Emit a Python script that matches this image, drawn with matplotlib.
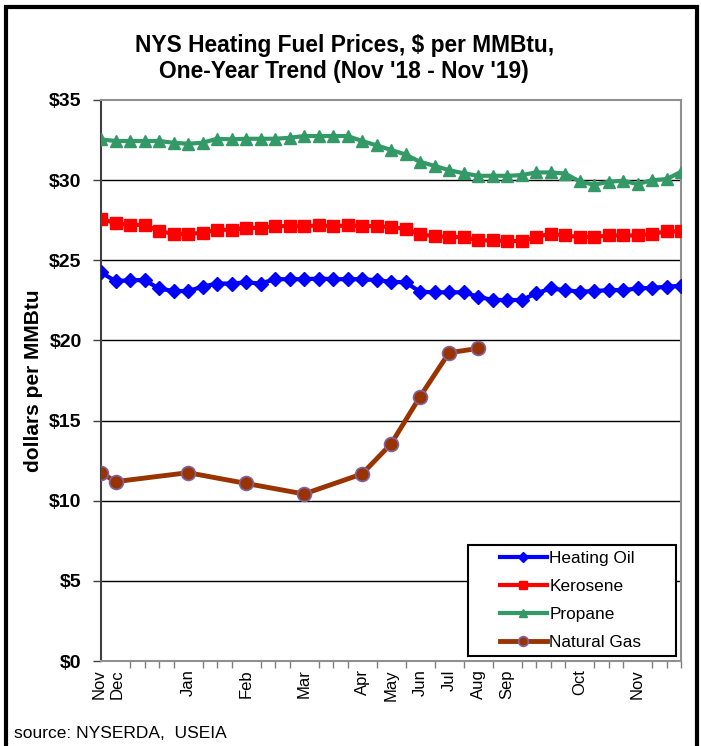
import matplotlib
matplotlib.use("Agg")
import matplotlib.pyplot as plt
import matplotlib.transforms as mtransforms
from matplotlib.patches import Rectangle

plt.rcParams["font.family"] = ["Liberation Sans", "DejaVu Sans"]

# ── Data ────────────────────────────────────────────────────────────────────
# one point per reporting date (weekly in winter, less often in summer)
heating_oil = [24.24, 23.70, 23.76, 23.76, 23.24, 23.08, 23.08, 23.35, 23.55, 23.55,
               23.62, 23.55, 23.82, 23.82, 23.82, 23.86, 23.82, 23.82, 23.82, 23.76,
               23.66, 23.62, 23.04, 23.00, 23.00, 23.00, 22.73, 22.52, 22.52, 22.52,
               22.93, 23.24, 23.14, 23.04, 23.08, 23.14, 23.14, 23.24, 23.28, 23.35,
               23.41]
kerosene = [27.58, 27.31, 27.21, 27.21, 26.82, 26.65, 26.65, 26.71, 26.90, 26.90,
            27.02, 27.02, 27.13, 27.13, 27.13, 27.17, 27.13, 27.17, 27.13, 27.13,
            27.07, 26.96, 26.61, 26.51, 26.45, 26.45, 26.24, 26.24, 26.20, 26.20,
            26.45, 26.65, 26.55, 26.45, 26.45, 26.55, 26.55, 26.55, 26.65, 26.80,
            26.80]
propane = [32.54, 32.44, 32.44, 32.44, 32.44, 32.33, 32.27, 32.33, 32.58, 32.54,
           32.58, 32.58, 32.58, 32.64, 32.75, 32.75, 32.75, 32.75, 32.44, 32.17,
           31.88, 31.60, 31.14, 30.89, 30.62, 30.43, 30.27, 30.27, 30.27, 30.31,
           30.48, 30.48, 30.41, 29.92, 29.71, 29.90, 29.96, 29.75, 30.00, 30.06,
           30.52]
# natural gas is monthly, reported on the first date of each month
gas_idx = [0, 1, 6, 10, 14, 18, 20, 22, 24, 26]
natural_gas = [11.75, 11.19, 11.75, 11.08, 10.42, 11.67, 13.54, 16.49, 19.23, 19.50]

month_idx = [0, 1, 6, 10, 14, 18, 20, 22, 24, 26, 28, 33, 37]
month_labels = ["Nov", "Dec", "Jan", "Feb", "Mar", "Apr", "May", "Jun", "Jul",
                "Aug", "Sep", "Oct", "Nov"]
y_ticks = [0, 5, 10, 15, 20, 25, 30, 35]

# ── Figure ──────────────────────────────────────────────────────────────────
fig = plt.figure(figsize=(7.01, 7.46), dpi=100, facecolor="white")
ax = fig.add_axes([0.1441, 0.1139, 0.8274, 0.7521])

x = list(range(len(heating_oil)))
ax.plot(x, heating_oil, color="#0000FF", lw=3, marker="D", ms=7,
        label="Heating Oil", zorder=4)
ax.plot(x, kerosene, color="#FF0000", lw=3, marker="s", ms=8.5,
        label="Kerosene", zorder=4)
ax.plot(x, propane, color="#339966", lw=3, marker="^", ms=9,
        label="Propane", zorder=4)
ax.plot(gas_idx, natural_gas, color="#993300", lw=3.5, marker="o", ms=10,
        mfc="#993300", mec="#8064A2", mew=1.2, label="Natural Gas", zorder=4)

ax.set_xlim(0, 40)
ax.set_ylim(0, 35)

ax.set_yticks(y_ticks)
ax.set_yticklabels([f"${v}" for v in y_ticks], fontsize=14, fontweight="bold")
ax.tick_params(axis="y", direction="out", length=6, width=1, color="#404040", pad=8)
for v in y_ticks[1:-1]:
    ax.axhline(v, color="black", lw=1, zorder=1)

ax.set_xticks(month_idx)
ax.set_xticklabels(month_labels, rotation=90, fontsize=12, va="top", ha="center")
ax.tick_params(axis="x", which="major", length=0, pad=6)
ax.set_xticks(x, minor=True)
ax.tick_params(axis="x", which="minor", direction="out", length=5, width=1,
               color="#808080")
# Nov and Dec sit one week apart: nudge them apart a little
xlabels = ax.get_xticklabels()
for lab, dx in ((xlabels[0], -1.5), (xlabels[1], 1.5)):
    lab.set_transform(lab.get_transform() +
                      mtransforms.ScaledTranslation(dx / 72, 0, fig.dpi_scale_trans))

ax.spines["left"].set_color("#404040")
ax.spines["left"].set_linewidth(1.5)
for s in ("top", "right", "bottom"):
    ax.spines[s].set_color("#909090")
    ax.spines[s].set_linewidth(1.5)

ax.set_ylabel("dollars per MMBtu", fontsize=15, fontweight="bold")
ax.yaxis.set_label_coords(-0.1, 0.5)

# legend without its own frame, boxed by hand so the wide side margins match
leg = ax.legend(loc="center left", bbox_to_anchor=(0.688, 0.1078), fontsize=12.4,
                frameon=False, handlelength=2.7, handletextpad=0.15, borderpad=0,
                labelspacing=0.75, borderaxespad=0, markerscale=0.7)
ax.add_patch(Rectangle((0.6328, 0.0089), 0.3586, 0.1979, transform=ax.transAxes,
                       facecolor="white", edgecolor="black", lw=1.5, zorder=5))
leg.set_zorder(6)

fig.text(0.491, 0.9216, "NYS Heating Fuel Prices, $ per MMBtu,\nOne-Year Trend (Nov '18 - Nov '19)",
         ha="center", va="center", fontsize=16.4, fontweight="bold", linespacing=1.15)

fig.text(0.02, 0.0174, "source: NYSERDA,  USEIA", fontsize=12.5, ha="left", va="center")

# outer frame round the whole chart
fig.patches.append(Rectangle((0.008, -0.05), 0.987, 1.04, transform=fig.transFigure,
                             fill=False, edgecolor="black", lw=3))

fig.savefig("out.png", dpi=100, facecolor="white")
